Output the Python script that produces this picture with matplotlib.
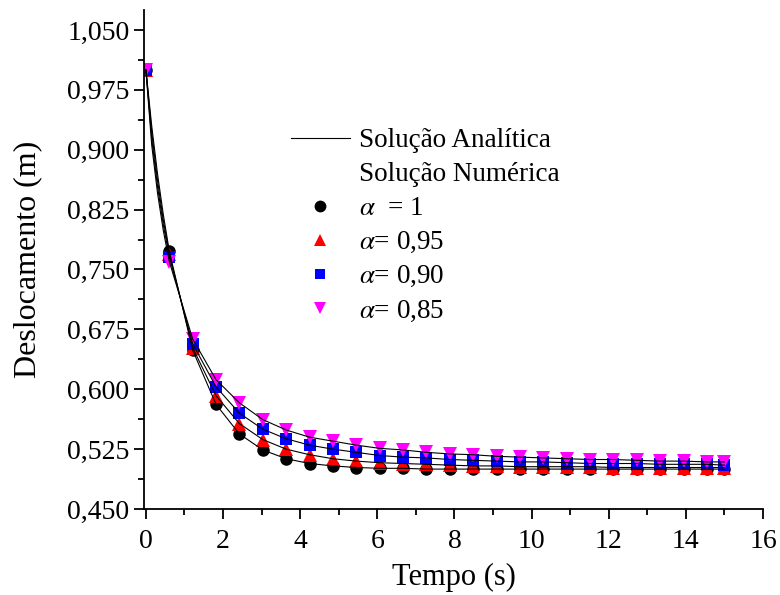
import numpy as np
import matplotlib
matplotlib.use('Agg')
import matplotlib.pyplot as plt
from matplotlib.lines import Line2D
from matplotlib.ticker import FixedLocator, MultipleLocator, FuncFormatter

plt.rcParams['font.family'] = 'Liberation Serif'
plt.rcParams['mathtext.fontset'] = 'stix'

# tempos das solucoes numericas
tempo = [0.0, 0.606, 1.212, 1.818, 2.424, 3.030, 3.636, 4.242, 4.848, 5.455,
         6.061, 6.667, 7.273, 7.879, 8.485, 9.091, 9.697, 10.303, 10.909,
         11.515, 12.121, 12.727, 13.333, 13.939, 14.545, 15.0]

desl_a100 = [1.000, 0.773, 0.649, 0.581, 0.544, 0.524, 0.513, 0.507, 0.504, 0.502,
             0.501, 0.501, 0.500, 0.500, 0.500, 0.500, 0.500, 0.500, 0.500,
             0.500, 0.500, 0.500, 0.500, 0.500, 0.500, 0.500]
desl_a095 = [1.000, 0.770, 0.652, 0.592, 0.557, 0.537, 0.525, 0.518, 0.513, 0.510,
             0.508, 0.507, 0.506, 0.505, 0.504, 0.504, 0.503, 0.503, 0.503,
             0.503, 0.502, 0.502, 0.502, 0.502, 0.502, 0.502]
desl_a090 = [1.000, 0.766, 0.657, 0.603, 0.570, 0.550, 0.538, 0.530, 0.525, 0.521,
             0.517, 0.515, 0.514, 0.512, 0.511, 0.510, 0.509, 0.509, 0.508,
             0.507, 0.507, 0.507, 0.506, 0.506, 0.506, 0.505]
desl_a085 = [1.000, 0.760, 0.663, 0.612, 0.583, 0.562, 0.549, 0.540, 0.535, 0.530,
             0.526, 0.524, 0.521, 0.519, 0.518, 0.516, 0.515, 0.514, 0.513,
             0.512, 0.512, 0.511, 0.510, 0.510, 0.509, 0.509]

# pontos extras no inicio da solucao analitica (trecho curvo)
tempo_ini = [0.15, 0.30, 0.45]
ini_a100 = [0.930, 0.870, 0.819]
ini_a095 = [0.922, 0.862, 0.812]
ini_a090 = [0.914, 0.854, 0.806]
ini_a085 = [0.906, 0.846, 0.799]

series = [
    (desl_a100, ini_a100, 'black', 'o', 9, r'$\alpha$  = 1'),
    (desl_a095, ini_a095, 'red', '^', 9.5, r'$\alpha$= 0,95'),
    (desl_a090, ini_a090, 'blue', 's', 8, r'$\alpha$= 0,90'),
    (desl_a085, ini_a085, 'magenta', 'v', 9.5, r'$\alpha$= 0,85'),
]

fig = plt.figure(figsize=(7.8, 5.95), dpi=100)
ax = fig.add_axes([0.1846, 0.1445, 0.7936, 0.8387])

handles = [Line2D([], [], color='black', lw=0.8),
           Line2D([], [], linestyle='none', marker='none')]
labels = ['Solução Analítica', 'Solução Numérica']

for desl, ini, cor, mk, ms, lab in series:
    ax.plot(tempo, desl, linestyle='none', marker=mk, ms=ms, color=cor,
            markeredgewidth=0, zorder=2)
    t_lin = [tempo[0]] + tempo_ini + tempo[1:]
    d_lin = [desl[0]] + ini + desl[1:]
    ax.plot(t_lin, d_lin, color='black', lw=0.8, zorder=3)
    handles.append(Line2D([], [], linestyle='none', marker=mk, ms=ms - 0.5,
                          color=cor, markeredgewidth=0))
    labels.append(lab)

ax.set_xlim(-0.05, 16)
ax.set_ylim(0.45, 1.075)

ax.xaxis.set_major_locator(MultipleLocator(2))
ax.xaxis.set_minor_locator(MultipleLocator(1))
yt = np.arange(0.45, 1.051, 0.075)
ax.yaxis.set_major_locator(FixedLocator(yt))
ax.yaxis.set_minor_locator(FixedLocator(yt[:-1] + 0.0375))
ax.yaxis.set_major_formatter(FuncFormatter(lambda v, p: f'{v:.3f}'.replace('.', ',')))

for s in ['top', 'right']:
    ax.spines[s].set_visible(False)
for s in ['left', 'bottom']:
    ax.spines[s].set_linewidth(1.3)

ax.tick_params(which='major', direction='out', length=7.5, width=1.3, labelsize=20)
ax.tick_params(which='minor', direction='out', length=4.5, width=1.3)
ax.tick_params(axis='x', which='major', pad=7)
ax.tick_params(axis='y', which='major', pad=3)

ax.set_xlabel('Tempo (s)', fontsize=22)
ax.set_ylabel('Deslocamento (m)', fontsize=23)
ax.xaxis.set_label_coords(0.5, -0.108)
ax.yaxis.set_label_coords(-0.165, 0.5)

ax.legend(handles, labels, loc='upper left', bbox_to_anchor=(0.215, 0.79),
          frameon=False, fontsize=19.5, handlelength=2.2, handletextpad=0.33,
          labelspacing=0.33, borderpad=0)

fig.savefig('out.png', dpi=100)
